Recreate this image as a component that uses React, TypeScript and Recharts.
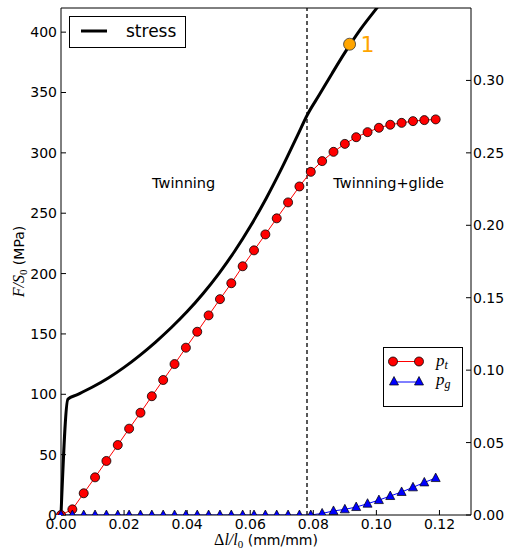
import React from 'react';
import { ComposedChart, Line, XAxis, YAxis, ReferenceLine, ReferenceDot, Label } from 'recharts';

// stress curve (left axis, MPa)
const stressStrain = [0, 0.0022, 0.005, 0.01, 0.015, 0.02, 0.025, 0.03, 0.035, 0.04, 0.045, 0.05, 0.055, 0.06, 0.065, 0.07, 0.075, 0.078, 0.082, 0.086, 0.09, 0.095, 0.1, 0.105];
const stressMPa = [0, 96, 99.5, 106, 113.5, 122.3, 132.3, 143.3, 155.3, 168.5, 183.3, 199.8, 218.3, 239, 262, 287.3, 314.5, 331, 348.5, 366, 383, 402.5, 419.5, 436];

// volume fractions (right axis)
const strainSteps = [0, 0.0036, 0.0072, 0.0108, 0.0144, 0.018, 0.0216, 0.0252, 0.0288, 0.0324, 0.036, 0.0396, 0.0432, 0.0468, 0.0504, 0.054, 0.0576, 0.0612, 0.0648, 0.0684, 0.072, 0.0756, 0.0792, 0.0828, 0.0864, 0.09, 0.0936, 0.0972, 0.1008, 0.1044, 0.108, 0.1116, 0.1152, 0.1188];
const twinFraction = [0, 0.0039, 0.015, 0.026, 0.0373, 0.0483, 0.0596, 0.0706, 0.082, 0.0932, 0.1042, 0.1155, 0.1265, 0.1378, 0.149, 0.16, 0.1717, 0.1827, 0.1937, 0.2048, 0.2158, 0.2268, 0.2369, 0.2443, 0.2507, 0.2562, 0.2608, 0.2643, 0.2673, 0.2694, 0.2707, 0.2719, 0.2726, 0.2731];
const glideFraction = [0, 0, 0, 0, 0, 0, 0, 0, 0, 0, 0, 0, 0, 0, 0, 0, 0, 0, 0, 0, 0, 0, 0, 0.0011, 0.0028, 0.0039, 0.0055, 0.0078, 0.0103, 0.0131, 0.0159, 0.0191, 0.0225, 0.0255];

const strainTicks = [0, 0.02, 0.04, 0.06, 0.08, 0.1, 0.12];
const stressTicks = [0, 50, 100, 150, 200, 250, 300, 350, 400];
const fractionTicks = [0, 0.05, 0.1, 0.15, 0.2, 0.25, 0.3];

const transitionStrain = 0.078;
const markedPoint = { strain: 0.0915, stress: 390, label: '1' };
const regionLabels = [
  { text: 'Twinning', strain: 0.0389, stress: 275 },
  { text: 'Twinning+glide', strain: 0.1039, stress: 275 },
];

const stressData = stressStrain.map((x, i) => ({ x, stress: stressMPa[i] }));
const fractionData = strainSteps.map((x, i) => ({ x, pt: twinFraction[i], pg: glideFraction[i] }));

const sans = 'DejaVu Sans';
const serif = 'Liberation Serif';
const tickStyle = { fill: '#000', fontSize: 14, fontFamily: sans };

const Triangle = (props: any) => {
  const { cx, cy, index } = props;
  if (cx == null || cy == null) return null;
  return (
    <polygon
      key={index}
      points={`${cx},${cy - 5} ${cx - 4.5},${cy + 3.5} ${cx + 4.5},${cy + 3.5}`}
      fill="#0000ff"
      stroke="#000"
      strokeWidth={0.7}
    />
  );
};

const YTitle = (props: any) => {
  const vb = props.viewBox;
  const x = vb.x + 13;
  const y = vb.y + vb.height / 2;
  return (
    <text x={x} y={y} transform={`rotate(-90, ${x}, ${y})`} textAnchor="middle" fontSize={14} fill="#000">
      <tspan fontFamily={serif} fontStyle="italic" fontSize={16}>F/S</tspan>
      <tspan fontFamily={serif} fontSize={11} dy={3}>0</tspan>
      <tspan fontFamily={sans} dy={-3}> (MPa)</tspan>
    </text>
  );
};

const XTitle = (props: any) => {
  const vb = props.viewBox;
  const x = vb.x + vb.width / 2;
  const y = vb.y + 30;
  return (
    <text x={x} y={y} textAnchor="middle" fontSize={14} fill="#000">
      <tspan fontFamily={serif} fontSize={16}>Δ</tspan>
      <tspan fontFamily={serif} fontStyle="italic" fontSize={16}>l/l</tspan>
      <tspan fontFamily={serif} fontSize={11} dy={3}>0</tspan>
      <tspan fontFamily={sans} dy={-3}> (mm/mm)</tspan>
    </text>
  );
};

export default function App() {
  return (
    <div style={{ position: 'absolute', left: 0, top: 0, width: 510, height: 556, background: '#fff' }}>
      <ComposedChart width={510} height={556} margin={{ top: 7, right: 4, bottom: 11, left: 11 }}>
        <XAxis
          dataKey="x"
          type="number"
          domain={[0, 0.13]}
          ticks={strainTicks}
          interval={0}
          tickFormatter={(v: number) => v.toFixed(2)}
          height={30}
          stroke="#000"
          tick={tickStyle}
          tickSize={-5}
          tickMargin={9}
        >
          <Label content={XTitle} />
        </XAxis>
        <XAxis
          xAxisId="top"
          orientation="top"
          type="number"
          domain={[0, 0.13]}
          ticks={strainTicks}
          interval={0}
          height={1}
          stroke="#000"
          tick={false}
          tickSize={-5}
        />
        <YAxis
          yAxisId="left"
          type="number"
          domain={[0, 420]}
          ticks={stressTicks}
          interval={0}
          allowDataOverflow
          width={50}
          stroke="#000"
          tick={tickStyle}
          tickSize={-5}
          tickMargin={9}
        >
          <Label content={YTitle} />
        </YAxis>
        <YAxis
          yAxisId="right"
          orientation="right"
          type="number"
          domain={[0, 0.35]}
          ticks={fractionTicks}
          interval={0}
          allowDataOverflow
          tickFormatter={(v: number) => v.toFixed(2)}
          width={35}
          stroke="#000"
          tick={tickStyle}
          tickSize={-5}
          tickMargin={7}
        />
        <ReferenceLine x={transitionStrain} yAxisId="left" stroke="#222" strokeWidth={1.5} strokeDasharray="4 3" />
        {regionLabels.map((r) => (
          <ReferenceDot
            key={r.text}
            x={r.strain}
            y={r.stress}
            yAxisId="left"
            r={0}
            fill="none"
            stroke="none"
            label={{ value: r.text, position: 'center', fill: '#000', fontSize: 14.5, fontFamily: sans }}
          />
        ))}
        <Line
          data={stressData}
          dataKey="stress"
          yAxisId="left"
          type="monotoneX"
          stroke="#000"
          strokeWidth={3}
          dot={false}
          isAnimationActive={false}
        />
        <Line
          data={fractionData}
          dataKey="pt"
          yAxisId="right"
          type="linear"
          stroke="#ff0000"
          strokeWidth={1}
          dot={{ r: 4.5, fill: '#ff0000', stroke: '#000', strokeWidth: 0.8 }}
          isAnimationActive={false}
        />
        <Line
          data={fractionData}
          dataKey="pg"
          yAxisId="right"
          type="linear"
          stroke="#0000ff"
          strokeWidth={1}
          dot={Triangle}
          isAnimationActive={false}
        />
        <ReferenceDot
          x={markedPoint.strain}
          y={markedPoint.stress}
          yAxisId="left"
          r={6}
          fill="#ffa500"
          stroke="#333"
          strokeWidth={0.8}
          label={{ value: markedPoint.label, position: 'right', offset: 5, fill: '#ffa500', fontSize: 22, fontFamily: sans }}
        />
      </ComposedChart>

      <div style={{ position: 'absolute', left: 69, top: 16, width: 117, height: 32, border: '1px solid #000', boxSizing: 'border-box', background: '#fff' }}>
        <svg width={115} height={30}>
          <line x1={11} y1={14} x2={37} y2={14} stroke="#000" strokeWidth={3} />
          <text x={56} y={20} fontSize={17} fontFamily={sans} fill="#000">stress</text>
        </svg>
      </div>

      <div style={{ position: 'absolute', left: 383, top: 347, width: 80, height: 60, border: '1px solid #000', boxSizing: 'border-box', background: '#fff' }}>
        <svg width={78} height={58}>
          <line x1={9} y1={13.5} x2={35} y2={13.5} stroke="#ff0000" strokeWidth={1} />
          <circle cx={9} cy={13.5} r={4.5} fill="#ff0000" stroke="#000" strokeWidth={0.8} />
          <circle cx={35} cy={13.5} r={4.5} fill="#ff0000" stroke="#000" strokeWidth={0.8} />
          <text x={52} y={18} fill="#000" fontFamily={serif}>
            <tspan fontStyle="italic" fontSize={17}>p</tspan>
            <tspan fontStyle="italic" fontSize={12} dy={3}>t</tspan>
          </text>
          <line x1={10} y1={34} x2={35} y2={34} stroke="#0000ff" strokeWidth={1} />
          <polygon points="10,28.5 5.5,37 14.5,37" fill="#0000ff" stroke="#000" strokeWidth={0.7} />
          <polygon points="35,28.5 30.5,37 39.5,37" fill="#0000ff" stroke="#000" strokeWidth={0.7} />
          <text x={52} y={37} fill="#000" fontFamily={serif}>
            <tspan fontStyle="italic" fontSize={17}>p</tspan>
            <tspan fontStyle="italic" fontSize={12} dy={3}>g</tspan>
          </text>
        </svg>
      </div>
    </div>
  );
}
